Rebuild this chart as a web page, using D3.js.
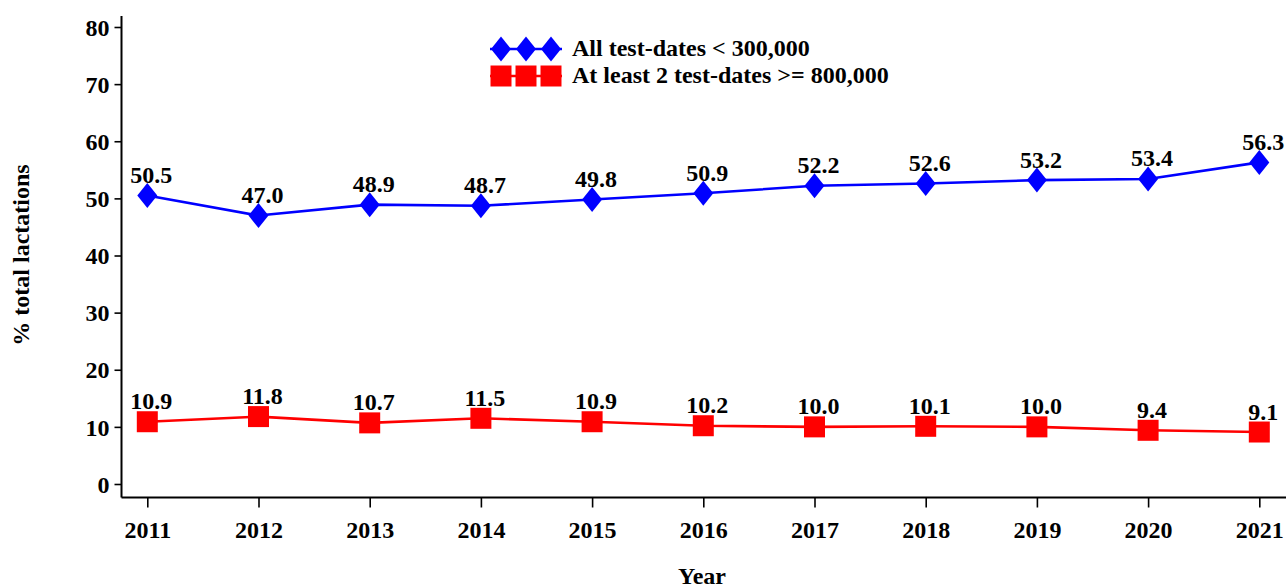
<!DOCTYPE html>
<html>
<head>
<meta charset="utf-8">
<script src="https://cdn.jsdelivr.net/npm/d3@7"></script>
<style>
  html, body { margin: 0; padding: 0; background: #fff; }
  svg { display: block; font-family: "Liberation Serif", "Times New Roman", serif; font-weight: bold; }
</style>
</head>
<body>
<svg id="chart" width="1286" height="588"></svg>
<script>
// Lactation share by year for two test-date groups
const years = [2011, 2012, 2013, 2014, 2015, 2016, 2017, 2018, 2019, 2020, 2021];
const under300k = [50.5, 47.0, 48.9, 48.7, 49.8, 50.9, 52.2, 52.6, 53.2, 53.4, 56.3];
const atLeast2Over800k = [10.9, 11.8, 10.7, 11.5, 10.9, 10.2, 10.0, 10.1, 10.0, 9.4, 9.1];
const yTicks = [0, 10, 20, 30, 40, 50, 60, 70, 80];
const seriesNames = ["All test-dates < 300,000", "At least 2 test-dates >= 800,000"];
const seriesColors = ["#0000ff", "#ff0000"];

const svg = d3.select("#chart");
const FONT = "24px";

const axisX0 = 121.5;   // y-axis line position
const axisY0 = 497.5;   // x-axis line position

const x = d3.scaleLinear().domain([2011, 2021]).range([147.3, 1259.3]);
const y = d3.scaleLinear().domain([0, 80]).range([484, 27]);

// Axis lines
svg.append("line")
  .attr("x1", axisX0).attr("x2", axisX0)
  .attr("y1", 16).attr("y2", axisY0)
  .attr("stroke", "#000").attr("stroke-width", 2);
svg.append("line")
  .attr("x1", axisX0).attr("x2", 1286)
  .attr("y1", axisY0).attr("y2", axisY0)
  .attr("stroke", "#000").attr("stroke-width", 2);

// Y axis ticks and labels
const gy = svg.append("g").attr("transform", `translate(${axisX0},0)`)
  .call(d3.axisLeft(y).tickValues(yTicks).tickSize(7).tickPadding(5).tickFormat(d3.format("d")));
gy.select(".domain").remove();
gy.selectAll(".tick line").attr("stroke", "#000").attr("stroke-width", 1.6);
gy.selectAll(".tick text")
  .attr("fill", "#000")
  .style("font-family", "'Liberation Serif', serif")
  .style("font-weight", "bold")
  .style("font-size", FONT)
  .attr("dy", "0.34em");

// X axis ticks and labels
const gx = svg.append("g").attr("transform", `translate(0,${axisY0})`)
  .call(d3.axisBottom(x).tickValues(years).tickSize(10).tickPadding(13).tickFormat(d3.format("d")));
gx.select(".domain").remove();
gx.selectAll(".tick line").attr("stroke", "#000").attr("stroke-width", 1.6);
gx.selectAll(".tick text")
  .attr("fill", "#000")
  .style("font-family", "'Liberation Serif', serif")
  .style("font-weight", "bold")
  .style("font-size", FONT);

// Axis titles
svg.append("text")
  .attr("x", 702).attr("y", 584)
  .attr("text-anchor", "middle")
  .style("font-size", FONT)
  .text("Year");
svg.append("text")
  .attr("transform", "translate(29,255) rotate(-90)")
  .attr("text-anchor", "middle")
  .style("font-size", FONT)
  .text("% total lactations");

// Marker shapes
const diamondPath = "M0,-12.5L10,0L0,12.5L-10,0Z";
const squarePath = "M-10.5,-10.5H10.5V10.5H-10.5Z";
const markerPaths = [diamondPath, squarePath];

const line = d3.line().x((d, i) => x(years[i])).y(d => y(d));

[under300k, atLeast2Over800k].forEach((vals, s) => {
  const g = svg.append("g");
  g.append("path")
    .datum(vals)
    .attr("d", line)
    .attr("fill", "none")
    .attr("stroke", seriesColors[s])
    .attr("stroke-width", 2.6);
  g.selectAll("path.mk")
    .data(vals)
    .join("path")
    .attr("class", "mk")
    .attr("d", markerPaths[s])
    .attr("transform", (d, i) => `translate(${x(years[i])},${y(d)})`)
    .attr("fill", seriesColors[s]);
  g.selectAll("text.lbl")
    .data(vals)
    .join("text")
    .attr("class", "lbl")
    .attr("x", (d, i) => x(years[i]) + 4)
    .attr("y", d => y(d) - 12.5)
    .attr("text-anchor", "middle")
    .style("font-size", FONT)
    .attr("fill", "#000")
    .text(d => d.toFixed(1));
});

// Legend
const legendRows = [49, 76];
const legendXs = [501, 526, 551];
seriesNames.forEach((name, s) => {
  const g = svg.append("g").attr("transform", `translate(0,${legendRows[s]})`);
  g.append("line")
    .attr("x1", 490).attr("x2", 562)
    .attr("y1", 0).attr("y2", 0)
    .attr("stroke", seriesColors[s]).attr("stroke-width", 2.6);
  legendXs.forEach(lx => {
    g.append("path")
      .attr("d", markerPaths[s])
      .attr("transform", `translate(${lx},0)`)
      .attr("fill", seriesColors[s]);
  });
  g.append("text")
    .attr("x", 572).attr("y", 7)
    .style("font-size", FONT)
    .attr("fill", "#000")
    .text(name);
});
</script>
</body>
</html>
